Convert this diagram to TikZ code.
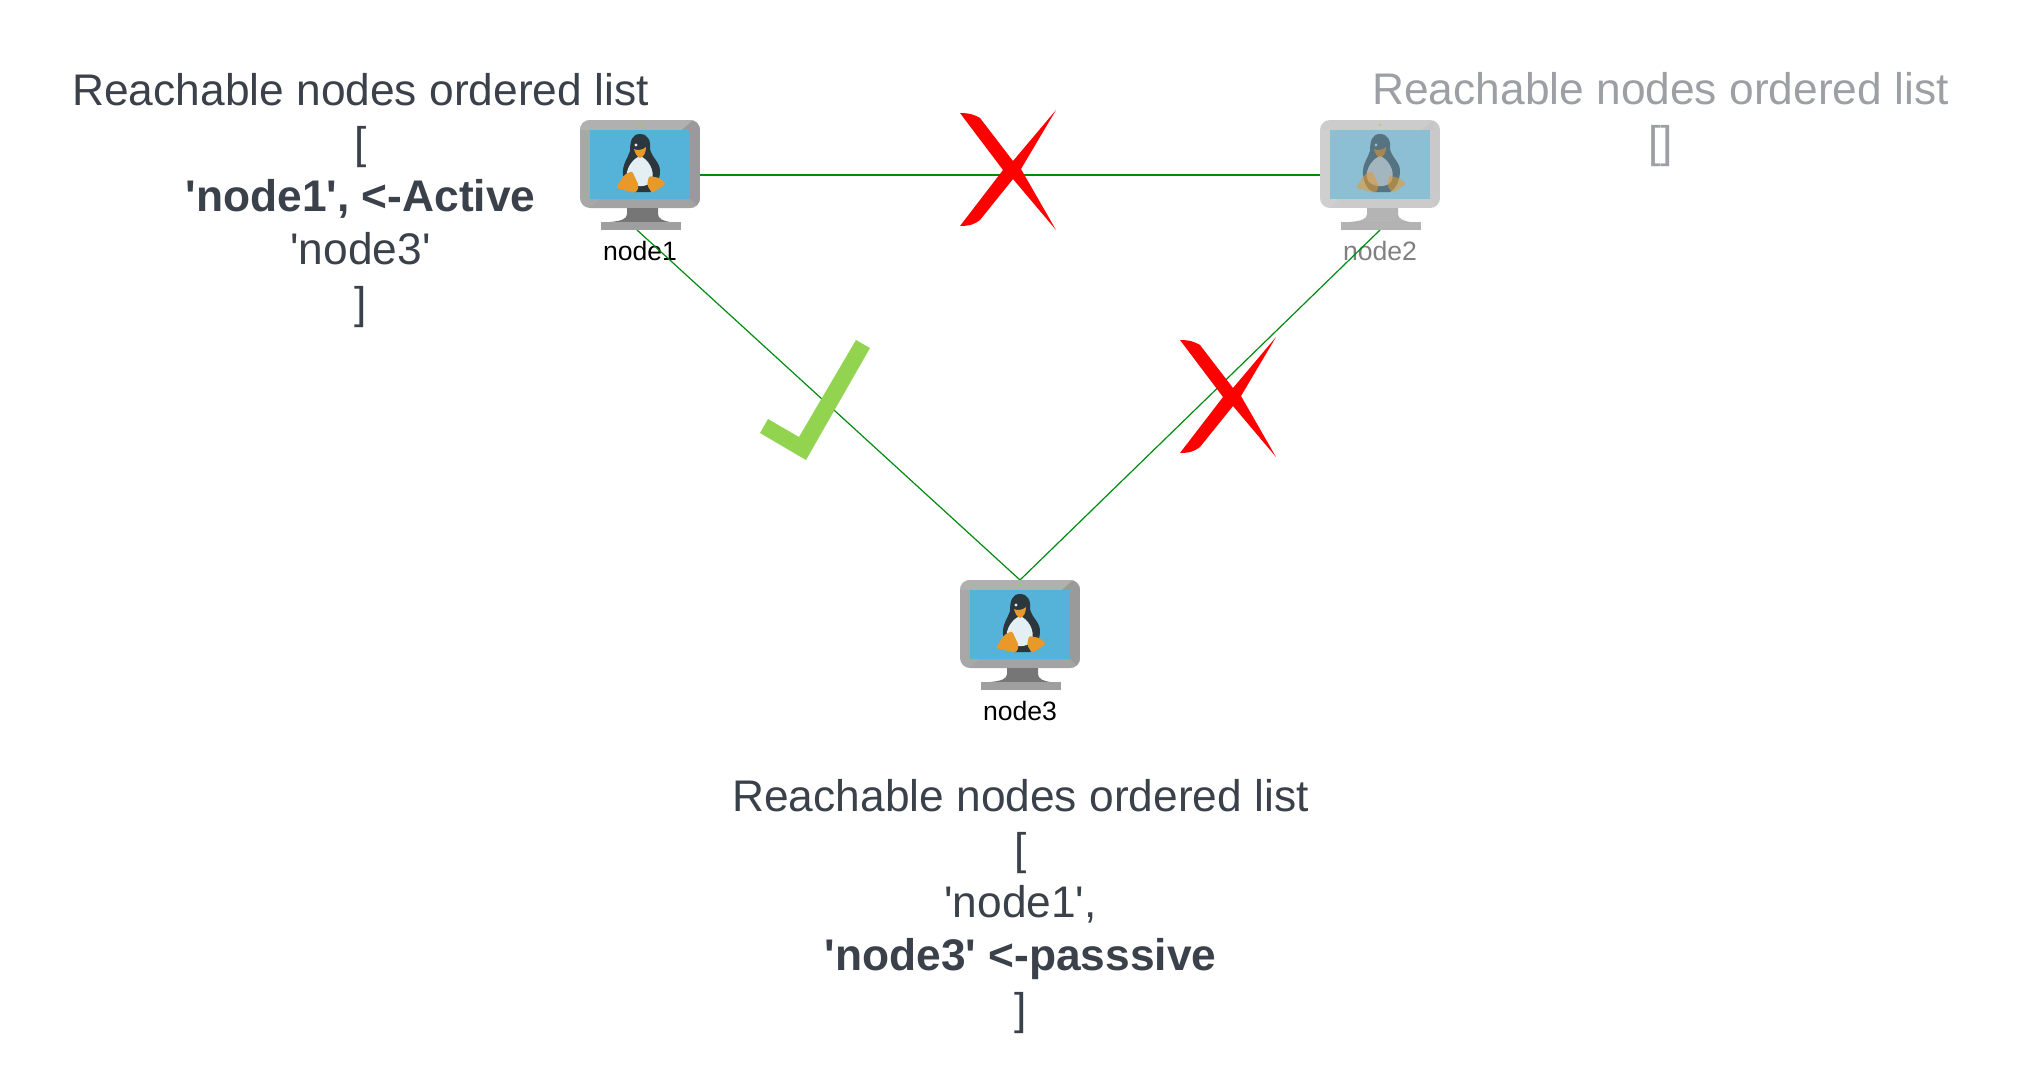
\documentclass[tikz,border=0pt]{standalone}
\usepackage{fontspec}
\setmainfont{Liberation Sans}
\usepackage{xcolor}
\usetikzlibrary{positioning}
\definecolor{inkgrey}{HTML}{3A414A}
\definecolor{linkgreen}{HTML}{008A10}
\definecolor{crossred}{HTML}{FF0000}
\definecolor{tickgreen}{HTML}{92D350}
\definecolor{bezel}{HTML}{A8A8A8}
\definecolor{bezellight}{HTML}{B0B0B0}
\definecolor{bezelmid}{HTML}{A3A3A3}
\definecolor{bezeldark}{HTML}{9A9A9A}
\definecolor{standbase}{HTML}{9F9F9F}
\definecolor{neck}{HTML}{767676}
\definecolor{screenblue}{HTML}{55B2D9}
\definecolor{tuxdark}{HTML}{2B363D}
\definecolor{tuxbelly}{HTML}{E3EFF3}
\definecolor{tuxfoot}{HTML}{E9982A}
\newcommand{\qt}{\textquotesingle}

\tikzset{
  listbox/.style={align=center,font=\fontsize{22.15}{26.58}\selectfont,text=inkgrey,anchor=north,inner sep=0pt},
  hostlabel/.style={font=\fontsize{13.3}{15}\selectfont,inner sep=0pt},
  hostbox/.style={minimum width=60pt,minimum height=55pt,inner sep=0pt},
  link/.style={draw=linkgreen,line width=0.6pt},
  band/.style={},
  % coordinates inside these pics are full-size pixels around the screen centre
  computer/.pic={
    \begin{scope}[x=0.5pt,y=-0.5pt]
    \begin{scope}
    \clip[rounded corners=5pt] (-60,-47) rectangle (60,41);
    \fill[bezel] (-60,-47) rectangle (60,41);
    \fill[bezellight,band] (-60,-47) rectangle (53,-37);
    \fill[bezelmid,band] (-50,41) -- (-40,32) -- (50,32) -- (60,41) -- cycle;
    \fill[bezeldark,band] (53,-47) -- (60,-47) -- (60,41) -- (50,32) -- (50,-37) -- (42,-37) -- cycle;
    \end{scope}
    \fill[neck] (-13,41) -- (18,41) -- (18,47) .. controls (18,52) and (24,54) .. (30,55) -- (-30,55) .. controls (-19,54) and (-13,52) .. (-13,47) -- cycle;
    \fill[standbase] (-39,55) rectangle (41,63);
    \fill[standbase] (-39,55) rectangle (41,63);
    \fill[screenblue] (-50,-37) rectangle (50,32);
    \fill[tickgreen] (0,-42) circle (1.5);
    \fill[tuxdark] (0,-33) .. controls (-8,-33) and (-10,-26) .. (-10,-16) .. controls (-12,-9) and (-18,-3) .. (-17,8) .. controls (-16,16) and (-12,24) .. (-6,25) -- (10,25) .. controls (16,22) and (20,12) .. (20,4) .. controls (20,-5) and (12,-9) .. (10,-18) .. controls (11,-26) and (8,-33) .. (0,-33) -- cycle;
    \fill[tuxbelly] (0,-11) .. controls (-8,-8) and (-15,3) .. (-13,11) .. controls (-11,21) and (9,22) .. (12,13) .. controls (15,3) and (8,-8) .. (0,-11) -- cycle;
    \fill[tuxfoot] (-6,-18) .. controls (-3,-16) and (3,-17) .. (6,-20) .. controls (6,-15) and (4,-10) .. (0,-9) .. controls (-3,-10) and (-5,-14) .. (-6,-18) -- cycle;
    \fill[tuxbelly] (-4,-22) circle (1.6);
    \fill[tuxfoot,rounded corners=1pt] (-16,8) -- (-8,4) -- (-1,19) -- (-4,26) -- (-24,21) -- cycle;
    \fill[tuxfoot,rounded corners=1pt] (9,9) -- (20,11) -- (26,17) -- (12,26) -- (7,18) -- cycle;
    \end{scope}
  },
  crossmark/.pic={
    \fill[crossred,x=0.5pt,y=-0.5pt] (-55,-57) .. controls (-45,-57) and (-40,-55) .. (-35,-52) -- (-2,-9) -- (41,-60) -- (6,-1) -- (41,60) -- (-2,9) -- (-35,50) .. controls (-40,54) and (-45,56) .. (-55,56) -- (-12,0) -- cycle;
  },
  tickmark/.pic={
    \fill[tickgreen,x=0.5pt,y=-0.5pt] (40,-60) -- (54,-52) -- (-10,60) -- (-56,33) -- (-48,19) -- (-17,37) -- cycle;
  }
}

\begin{document}
\begin{tikzpicture}[x=0.5pt,y=-0.5pt]
\useasboundingbox (0,0) rectangle (2020,1083);
\node[hostbox] (node1) at (640,175) {};
\node[hostbox] (node2) at (1380,175) {};
\node[hostbox] (node3) at (1020,635) {};
\node[hostlabel] (label1) at (640,251) {node1};
\node[hostlabel,text=black!50] (label2) at (1380,251) {node2};
\node[hostlabel] (label3) at (1020,711) {node3};
\coordinate (top3) at (1020,580);
\coordinate (foot1) at (637,230);
\coordinate (foot2) at (1380,230);
\draw[link] (node1.east) -- (node2.west);
\draw[link] (foot1) -- (top3);
\draw[link] (foot2) -- (top3);
\pic at (640,167) {computer};
\pic[opacity=.55,band/.style={opacity=.1}] at (1380,167) {computer};
\pic at (1020,627) {computer};
\pic at (1015,170) {crossmark};
\pic at (1235,397) {crossmark};
\pic at (816,400) {tickmark};
\node[listbox] (list1) at (360.5,73) {Reachable nodes ordered list\\ {[}\\ \textbf{\qt node1\qt, <-Active}\\ \qt node3\qt\\ {]}};
\node[listbox,opacity=.5] (list2) at (1660.5,71.5) {Reachable nodes ordered list\\ {[]}};
\node[listbox] (list3) at (1020.5,779) {Reachable nodes ordered list\\ {[}\\ \qt node1\qt,\\ \textbf{\qt node3\qt\ <-passsive}\\ {]}};
\end{tikzpicture}
\end{document}
